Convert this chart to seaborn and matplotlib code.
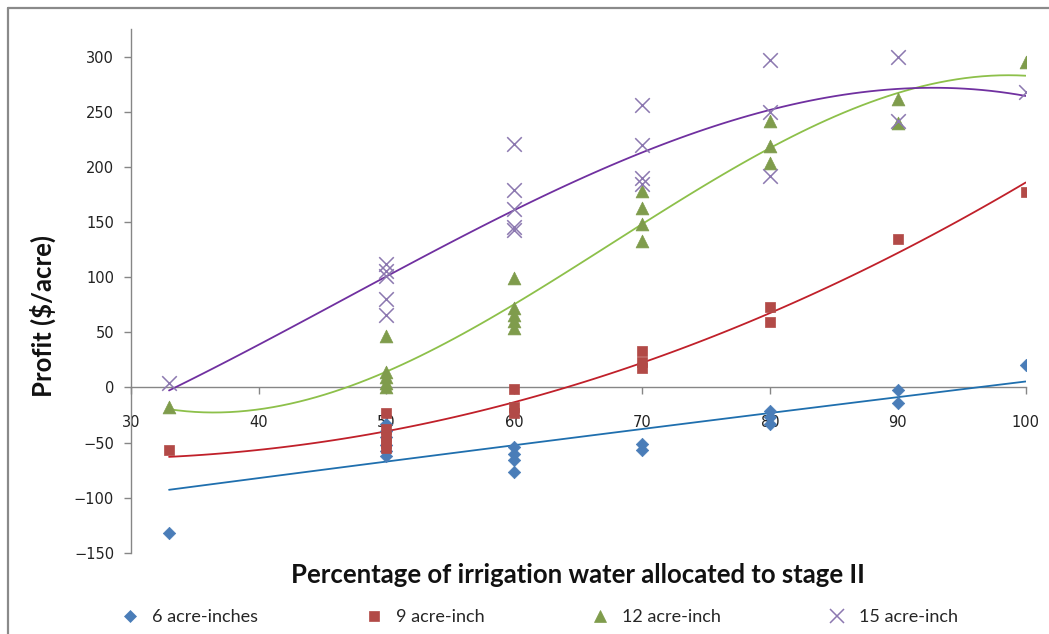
import numpy as np
import pandas as pd
import matplotlib
matplotlib.use("Agg")
import matplotlib.pyplot as plt
from matplotlib.lines import Line2D
import seaborn as sns

# Profit observations per seasonal irrigation amount
series_names = ["6 acre-inches", "9 acre-inch", "12 acre-inch", "15 acre-inch"]

x_6 = [33, 50, 50, 50, 50, 50, 50, 60, 60, 60, 60, 70, 70, 80, 80, 80, 90, 90, 100]
p_6 = [-132, -33, -40, -45, -52, -58, -62, -54, -60, -66, -77, -51, -57, -21, -27, -33, -2, -14, 20]

x_9 = [33, 50, 50, 50, 50, 50, 60, 60, 60, 70, 70, 70, 80, 80, 90, 100]
p_9 = [-57, -23, -38, -45, -50, -55, -1, -18, -23, 33, 23, 18, 73, 59, 135, 177]

x_12 = [33, 50, 50, 50, 50, 50, 60, 60, 60, 60, 60, 70, 70, 70, 70, 80, 80, 80, 90, 90, 100]
p_12 = [-18, 47, 14, 9, 4, 0, 99, 72, 66, 60, 54, 178, 163, 148, 133, 242, 219, 204, 262, 240, 295]

x_15 = [33, 50, 50, 50, 50, 50, 60, 60, 60, 60, 60, 70, 70, 70, 70, 80, 80, 80, 90, 90, 100]
p_15 = [4, 112, 106, 101, 80, 66, 221, 179, 162, 146, 143, 256, 220, 190, 185, 297, 250, 192, 300, 242, 268]

# polynomial order of each trend line
trend_order = [2, 2, 3, 3]

x_ticks = [30, 40, 50, 60, 70, 80, 90, 100]
y_ticks = [-150, -100, -50, 0, 50, 100, 150, 200, 250, 300]

marker_colors = ["#4A7DB8", "#B24A47", "#7F9C4C", "#8C78B0"]
line_colors = ["#1F6FAE", "#C0202A", "#8DC04A", "#7030A0"]
markers = ["D", "s", "^", "x"]
marker_sizes = [40, 50, 85, 110]

frames = []
for name, xs, ps in zip(series_names, [x_6, x_9, x_12, x_15], [p_6, p_9, p_12, p_15]):
    frames.append(pd.DataFrame({"pct": xs, "profit": ps, "amount": name}))
df = pd.concat(frames, ignore_index=True)

sns.set_style("white")
plt.rcParams["font.family"] = ["DejaVu Sans"]

W, H = 1049, 634
fig = plt.figure(figsize=(W / 100, H / 100), dpi=100)
ax = fig.add_axes([130.7 / W, 1 - 552.7 / H, (1025.7 - 130.7) / W, (552.7 - 29.3) / H])

for i, name in enumerate(series_names):
    sub = df[df["amount"] == name]
    sns.regplot(data=sub, x="pct", y="profit", order=trend_order[i], ci=None,
                scatter=False, ax=ax,
                line_kws={"color": line_colors[i], "lw": 1.3, "zorder": 3})

for i, name in enumerate(series_names):
    sub = df[df["amount"] == name]
    kw = dict(color=marker_colors[i], marker=markers[i], s=marker_sizes[i], zorder=4)
    if markers[i] == "x":
        kw.update(linewidth=1.1)
    else:
        kw.update(edgecolor=marker_colors[i], linewidth=0.5)
    sns.scatterplot(data=sub, x="pct", y="profit", ax=ax, legend=False, **kw)

ax.set_xlim(30, 100)
ax.set_ylim(-150, 325)
ax.set_xticks(x_ticks)
ax.set_yticks(y_ticks)
ax.set_xlabel("")
ax.set_ylabel("")

for s in ["top", "right"]:
    ax.spines[s].set_visible(False)
ax.spines["bottom"].set_position(("data", 0))
for s in ["left", "bottom"]:
    ax.spines[s].set_color("#868686")
    ax.spines[s].set_linewidth(1.0)

ax.tick_params(axis="both", direction="out", length=5, width=1.0, color="#868686",
               labelsize=10.5, labelcolor="#222222")
ax.tick_params(axis="x", pad=15)
ax.tick_params(axis="y", pad=7)
ax.tick_params(axis="x", bottom=True)
ax.tick_params(axis="y", left=True)
ax.grid(False)

fig.text(578 / W, 1 - 575 / H, "Percentage of irrigation water allocated to stage II",
         ha="center", va="center", fontsize=18.5, fontweight="bold", family=["Lato", "DejaVu Sans"],
         color="#111111")
fig.text(43 / W, 1 - 316 / H, "Profit ($/acre)", ha="center", va="center", rotation=90,
         fontsize=18.5, fontweight="bold", family=["Lato", "DejaVu Sans"], color="#111111")

handles = []
for i, name in enumerate(series_names):
    ms = {"D": 6.5, "s": 7, "^": 9, "x": 10}[markers[i]]
    handles.append(Line2D([], [], linestyle="none", marker=markers[i], markersize=ms,
                          color=marker_colors[i], markeredgewidth=1.1 if markers[i] == "x" else 0.5))
leg = fig.legend(handles=handles, labels=series_names, ncol=4, frameon=False,
                 loc="center left", bbox_to_anchor=(105 / W, 1 - 617 / H),
                 handlelength=1.0, handletextpad=0.72, columnspacing=5.9,
                 prop={"family": ["Lato", "DejaVu Sans"], "size": 13})

# chart-area border (top and left edges)
fig.add_artist(Line2D([8 / W, 8 / W], [0, 1 - 8 / H], transform=fig.transFigure,
                      color="#8a8a8a", lw=1.6))
fig.add_artist(Line2D([8 / W, 1], [1 - 8 / H, 1 - 8 / H], transform=fig.transFigure,
                      color="#8a8a8a", lw=1.6))

fig.savefig("out.png", dpi=100, facecolor="white")
